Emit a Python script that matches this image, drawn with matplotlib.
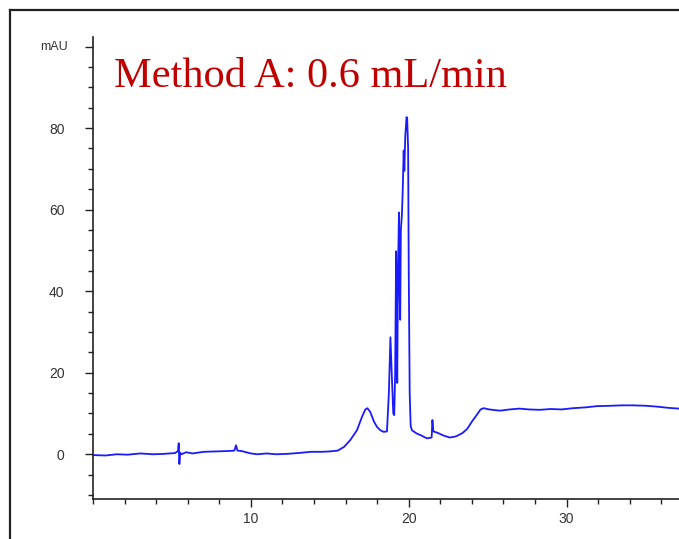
import matplotlib
matplotlib.use("Agg")
from matplotlib import pyplot as plt
from matplotlib.ticker import MultipleLocator, FixedLocator
from matplotlib.lines import Line2D

# retention time (min) and detector signal (mAU)
time_min = [0.0, 0.8, 1.5, 2.2, 3.0, 3.8, 4.5, 5.2, 5.38, 5.43, 5.47, 5.52, 5.6,
            5.9, 6.3, 7.0, 7.8, 8.6, 8.95, 9.06, 9.15, 9.4, 10.0, 10.4, 11.0,
            11.6, 12.3, 13.0, 13.8, 14.5, 15.0,
            15.5, 15.9, 16.3, 16.72, 17.04, 17.25, 17.38, 17.56, 17.8, 17.99,
            18.2, 18.4, 18.62,
            18.74, 18.84, 18.92, 19.02, 19.08, 19.14, 19.2, 19.24, 19.27, 19.32,
            19.38, 19.42, 19.46, 19.5, 19.57, 19.62, 19.68, 19.72, 19.78, 19.86,
            19.9, 19.96, 20.0, 20.06, 20.12,
            20.2, 20.5, 20.8, 21.15, 21.45, 21.5, 21.56, 21.8, 22.2, 22.6, 23.0,
            23.4, 23.7, 24.0, 24.3, 24.55, 24.75, 25.1, 25.5, 25.8, 26.4, 27.0,
            27.6, 28.3, 29.0, 29.7, 30.4, 31.2, 31.9, 32.8, 33.5, 34.2, 35.0,
            35.7, 36.4, 37.1]
signal_mau = [-0.2, -0.3, 0.0, -0.1, 0.2, 0.0, 0.1, 0.3, 0.8, 2.7, -2.4, 0.4, 0.0,
              0.5, 0.2, 0.6, 0.7, 0.8, 0.9, 2.2, 0.9, 0.8, 0.2, 0.0, 0.2,
              0.0, 0.1, 0.3, 0.6, 0.6, 0.7,
              0.9, 1.8, 3.5, 5.9, 9.2, 11.0, 11.3, 10.4, 8.0, 6.7,
              5.9, 5.5, 5.6,
              15.0, 28.7, 20.0, 10.0, 9.6, 20.0, 49.8, 35.0, 17.5, 45.0,
              59.3, 40.0, 33.0, 55.0, 59.0, 65.0, 74.5, 69.5, 78.0, 82.7,
              82.5, 75.0, 45.0, 15.0, 7.0,
              5.9, 5.1, 4.6, 3.9, 4.1, 8.4, 5.6, 5.3, 4.6, 4.1, 4.4,
              5.2, 6.2, 8.0, 9.6, 11.0, 11.3, 11.0, 10.8, 10.7, 11.0, 11.2,
              11.0, 10.9, 11.1, 11.0, 11.3, 11.5, 11.8, 11.9, 12.0, 12.0, 11.9,
              11.7, 11.4, 11.2]

y_major = [0, 20, 40, 60, 80, 100]
y_labels = ["0", "20", "40", "60", "80", ""]
x_major = [10, 20, 30]

fig = plt.figure(figsize=(6.79, 5.39), dpi=100)
ax = fig.add_axes([0.137, 0.074, 0.863, 0.857])

ax.plot(time_min, signal_mau, color="#1a1aff", linewidth=1.3)

ax.set_xlim(0, 37.12)
ax.set_ylim(-11.0, 102.3)

ax.xaxis.set_major_locator(FixedLocator(x_major))
ax.xaxis.set_minor_locator(MultipleLocator(2))
ax.yaxis.set_major_locator(FixedLocator(y_major))
ax.set_yticklabels(y_labels)
ax.yaxis.set_minor_locator(MultipleLocator(5))

for s in ["top", "right"]:
    ax.spines[s].set_visible(False)
for s in ["left", "bottom"]:
    ax.spines[s].set_linewidth(1.2)
    ax.spines[s].set_color("#222222")

ax.tick_params(which="both", direction="out", width=1.0, color="#222222",
               labelsize=10, labelcolor="#333333", labelfontfamily="Liberation Sans")
ax.tick_params(which="major", length=5.5)
ax.tick_params(which="minor", length=3.5)
ax.tick_params(axis="y", which="major", pad=15)
ax.tick_params(axis="x", which="major", pad=4)

# unit label sits where the 100 tick label would be
fig.text(68 / 679, 1 - 47 / 539, "mAU", ha="right", va="center",
         fontsize=9, color="#333333", family="Liberation Sans")

fig.text(114 / 679, 1 - 87 / 539, "Method A: 0.6 mL/min", fontsize=30.5,
         family="Liberation Serif", color="#c00000", va="baseline", ha="left")

# outer frame of the original report (runs off the right and bottom edges)
fx = 9.5 / 679
fy = 1 - 9.5 / 539
fig.add_artist(Line2D([fx, fx], [0, fy], transform=fig.transFigure,
                      color="#222222", linewidth=1.6))
fig.add_artist(Line2D([fx, 1], [fy, fy], transform=fig.transFigure,
                      color="#222222", linewidth=1.6))

fig.savefig("out.png", dpi=100)
